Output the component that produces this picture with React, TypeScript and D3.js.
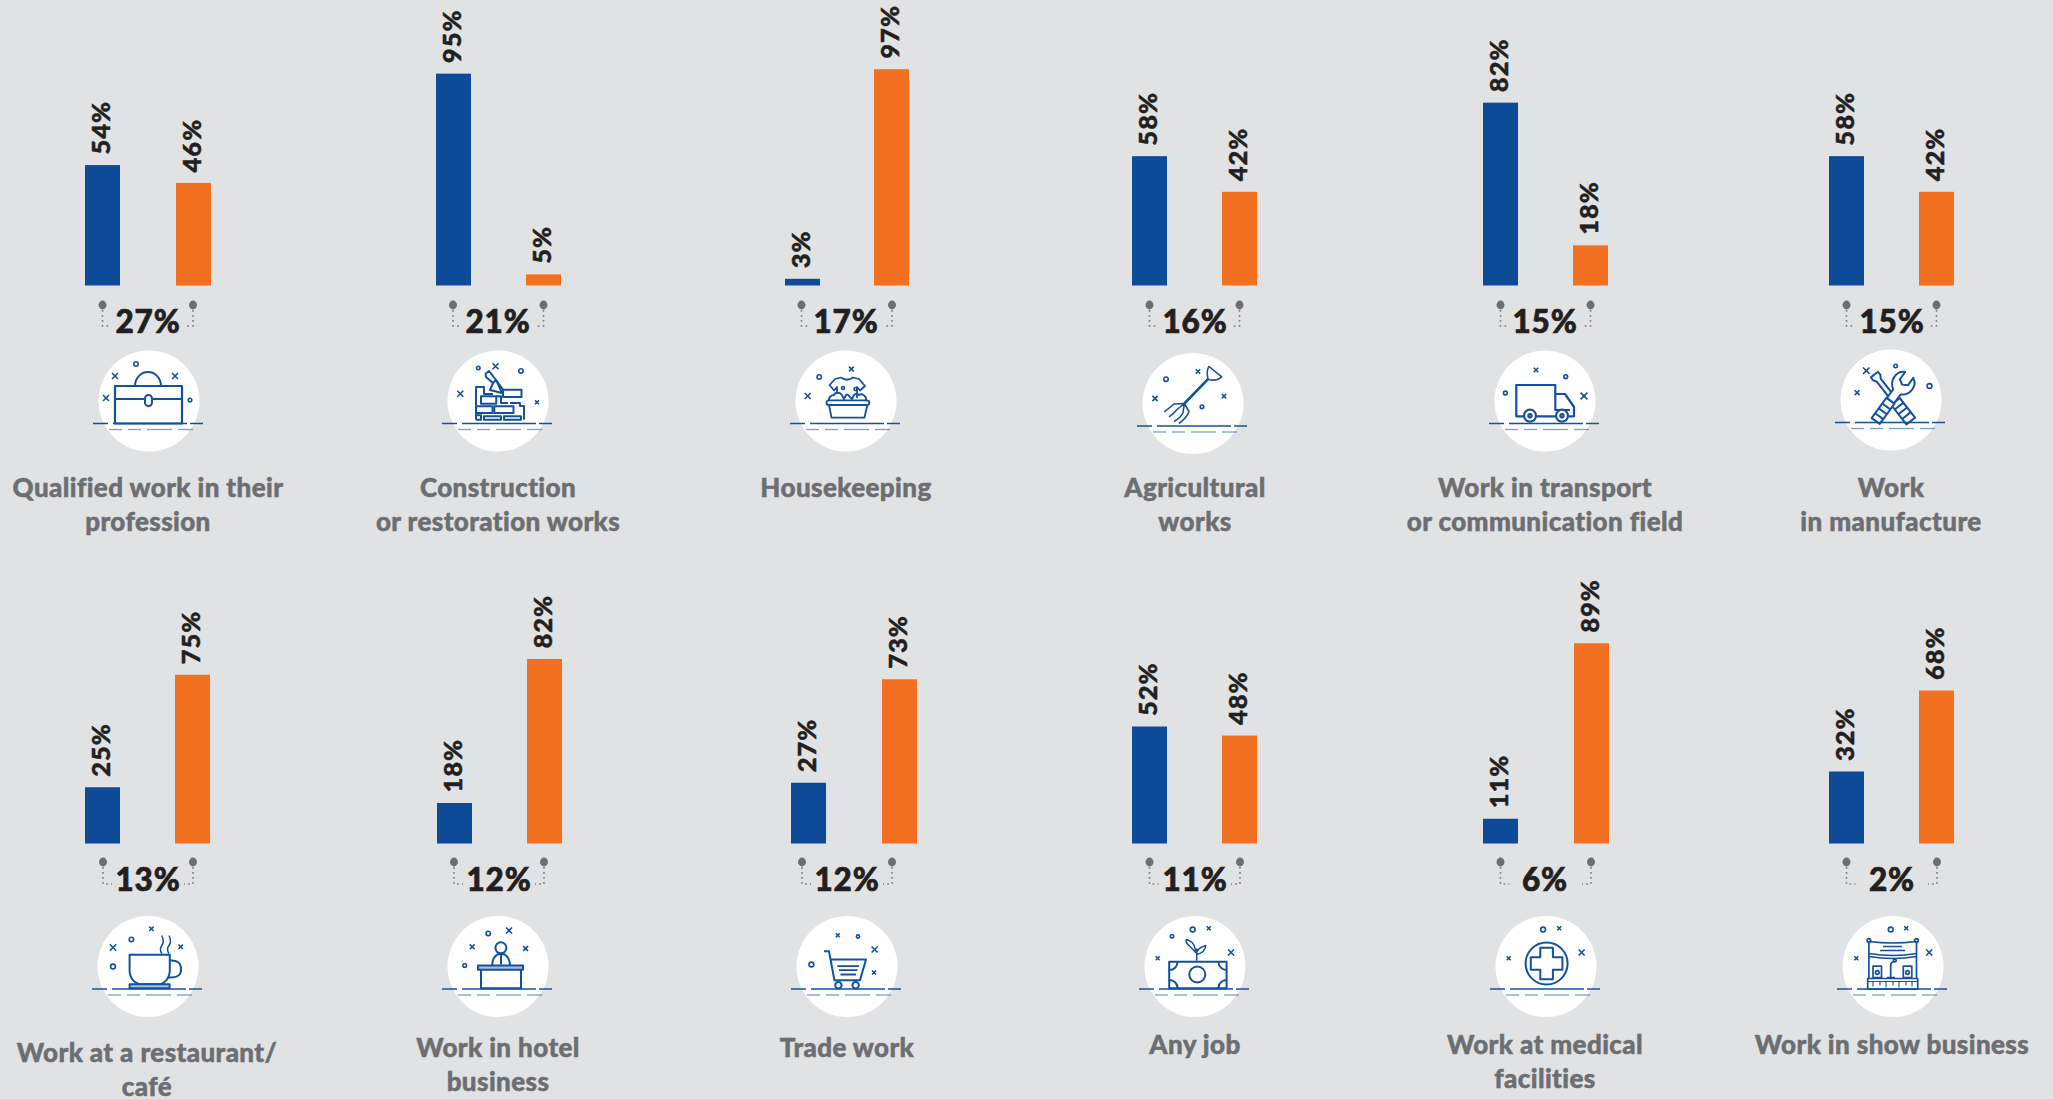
import React from "react";
import * as d3 from "d3";

// ---- data ----
const categories: string[][] = [
  ["Qualified work in their", "profession"],
  ["Construction", "or restoration works"],
  ["Housekeeping"],
  ["Agricultural", "works"],
  ["Work in transport", "or communication field"],
  ["Work", "in manufacture"],
  ["Work at a restaurant/", "café"],
  ["Work in hotel", "business"],
  ["Trade work"],
  ["Any job"],
  ["Work at medical", "facilities"],
  ["Work in show business"],
];
const blueValues = [54, 95, 3, 58, 82, 58, 25, 18, 27, 52, 11, 32];
const orangeValues = [46, 5, 97, 42, 18, 42, 75, 82, 73, 48, 89, 68];
const overallValues = [27, 21, 17, 16, 15, 15, 13, 12, 12, 11, 6, 2];
const iconNames = ["case", "bricks", "wash", "fork", "truck", "tools", "cup", "desk", "cart", "money", "cross", "stage"];

// ---- layout ----
const W = 2053, H = 1099;
const BLUE = "#0d4b99", ORANGE = "#f47021", GREY = "#6d6e71", INK = "#231f20", BG = "#e1e2e4", ICON = "#13509f";
const blueLeft = [85, 436, 785, 1132, 1483, 1829, 85, 437, 791, 1132, 1483, 1829];
const orangeLeft = [176, 526, 874, 1222, 1573, 1919, 175, 527, 882, 1222, 1574, 1919];
const barW = 35;
const baseY = [285.5, 843.5];
const pxPerPct = [2.23, 2.25];
const circleX = [149, 498, 846, 1193, 1545, 1891, 148, 498, 847, 1195, 1546, 1893];
const circleY = [401, 401, 401, 403.5, 401, 400, 966.5, 966.5, 966.5, 966.5, 966.5, 966.5];
const labelX = [148, 498, 846, 1195, 1545, 1891, 147, 498, 847, 1195, 1545, 1892];
const labelY = [497, 497, 497, 497, 497, 497, 1062, 1057, 1057, 1054, 1054, 1054];
const overallX = [148, 498, 846, 1195, 1545, 1892, 148, 499, 847, 1195, 1545, 1892];
const pinLeft = [102.5, 453, 801.5, 1149.5, 1500.5, 1846.5, 103, 454, 802, 1149.5, 1500.5, 1846.5];
const pinRight = [193, 543.5, 892, 1239.5, 1590.5, 1936.5, 193, 544, 892, 1240, 1591, 1937];
const dotY = [305, 862];
const dotEnd = [326, 884];
const overallBase = [333, 891];

const FONT = "Lato, 'Open Sans', sans-serif";

const X = ({ x, y, s = 3 }: { x: number; y: number; s?: number }) => (
  <path d={`M${x - s} ${y - s}L${x + s} ${y + s}M${x + s} ${y - s}L${x - s} ${y + s}`} strokeWidth={1.6} />
);
const O = ({ x, y, r = 2.2 }: { x: number; y: number; r?: number }) => <circle cx={x} cy={y} r={r} strokeWidth={1.6} />;

const icons: Record<string, React.ReactNode> = {
  case: (
    <g>
      <O x={-13} y={-37} /><X x={-34} y={-25} /><X x={26} y={-25} /><X x={-43} y={-3} /><O x={41} y={-1} r={1.8} />
      <rect x={-34} y={-15} width={67} height={37.5} strokeWidth={2.2} />
      <path d="M-34 -2H33" strokeWidth={2} />
      <path d="M-14 -15A13 14 0 0 1 12 -15" strokeWidth={2} />
      <rect x={-4} y={-6} width={7} height={11} rx={3.5} fill="#fff" strokeWidth={2} />
    </g>
  ),
  bricks: (
    <g strokeWidth={2}>
      <O x={-19.7} y={-33} r={1.7} /><X x={-2.5} y={-34.7} /><O x={23} y={-30} /><X x={-37.7} y={-7.3} /><X x={39} y={1.3} s={2} />
      <path d="M-12.4 -27.3L-9 -30L-2 -21L-5 -18L-12 -24Z" />
      <path d="M-5 -18L-8 -11L4 -8L0 -17L-2 -21" />
      <path d="M-2 -21L5 -11.3" />
      <rect x={5} y={-11.3} width={18.5} height={7.3} />
      <path d="M-22 18.7V-14H-14V-7H-5" />
      <rect x={-17} y={-4.7} width={15.3} height={7.4} />
      <path d="M-1.7 -4.7H3V2H10" />
      <rect x={-22} y={5.3} width={16.5} height={6.7} />
      <rect x={-3.7} y={5.3} width={19.2} height={6.7} />
      <path d="M12 2H22V5H26V18.7" />
      <path d="M-22 14.3H-17V18.7H-22" />
      <rect x={-14} y={15.3} width={17} height={3.4} />
      <rect x={6} y={15.3} width={17} height={3.4} />
    </g>
  ),
  wash: (
    <g strokeWidth={1.8}>
      <O x={-26.8} y={-24} /><X x={5.4} y={-32} s={2.4} /><X x={-38.3} y={-5} />
      <path d="M-5 -23.5Q1 -19 7 -23.5L13 -22L19 -15L14 -10.5L11 -14V-3M-5 -23.5L-11 -22L-16.4 -16L-12 -10.5L-9 -14V-7" />
      <path d="M-17 0C-18 -4 -14 -6 -12 -6C-11 -9 -6 -9 -4 -6L-2 -2L0 -6C2 -8 4 -3 6 -2L8 -6C10 -8 12 -7 13 -6C16 -8 21 -5 20 0" />
      <O x={-3} y={-13} r={1.5} /><O x={9.5} y={-12} r={1.5} />
      <rect x={-19.5} y={-0.7} width={42.8} height={4.7} rx={2.3} />
      <path d="M-17 4L-14.5 16.7H18.4L21.4 4" />
    </g>
  ),
  fork: (
    <g strokeWidth={1.6}>
      <O x={-27} y={-24.3} /><X x={5} y={-32} s={2.2} /><X x={-38} y={-5} s={2.6} /><X x={31} y={-7.3} s={2.2} /><O x={9} y={3.3} r={1.8} />
      <path d="M15 -24.3L-8.6 0" strokeWidth={2.6} />
      <path d="M15 -24.3Q13 -33 16 -37L28.7 -26.7Q23 -21.5 15 -24.3Z" />
      <path d="M-8.6 0L-19 0.5Q-23 4 -28.7 8.3M-8.6 0L-16 6Q-19 10 -24 13.3M-8.6 0L-10 9Q-12 14 -19 18M-8.6 0L-4 8Q-6 14 -14 20" />
    </g>
  ),
  truck: (
    <g strokeWidth={2.2}>
      <X x={-9} y={-31} s={2.2} /><O x={20.7} y={-24.3} r={1.9} /><O x={-39.6} y={-8} r={1.9} /><X x={39} y={-5} s={3.4} />
      <path d="M-22 15.3H-28.7V-16H10.3V9H25M10.3 -7H20L29 6V15.3H24M-8 15.3H10" />
      <circle cx={-15} cy={14.7} r={6} fill="#fff" /><circle cx={-15} cy={14.7} r={1.6} />
      <circle cx={17} cy={14.7} r={6} fill="#fff" /><circle cx={17} cy={14.7} r={1.6} />
    </g>
  ),
  tools: (
    <g strokeWidth={2}>
      <X x={-24.7} y={-29.3} s={3.2} /><O x={4.6} y={-34} r={1.7} /><O x={38.5} y={-14} r={2.4} /><X x={-33.9} y={-7.3} s={2.4} />
      <g transform="translate(2.5 -1) rotate(-38)">
        <path d="M-2.5 3V-24L-4.5 -27V-31H4.5V-27L2.5 -24V3" />
        <rect x={-5.5} y={3} width={11} height={25} fill="#fff" />
        <path d="M-5.5 9H5.5M-5.5 15H5.5M-5.5 21H5.5" />
      </g>
      <g transform="translate(0 0) rotate(36)">
        <path d="M-4.5 -10Q-11 -14 -11 -21Q-11 -28 -5 -31V-22L0 -19L5 -22V-31Q11 -28 11 -21Q11 -14 4.5 -10V1H-4.5Z" fill="#fff" />
        <rect x={-5} y={1} width={10} height={25} fill="#fff" />
        <path d="M-5 8H5M-5 14H5M-5 20H5" />
      </g>
    </g>
  ),
  cup: (
    <g strokeWidth={2}>
      <X x={-35} y={-19} s={3.2} /><O x={-16.6} y={-27} r={2.2} /><X x={3.4} y={-37.7} s={2.2} /><X x={32.7} y={-19.7} s={2.2} /><O x={-35} y={0} r={2.4} />
      <path d="M-18.4 -11.7H21.8V5Q21 14 13 17.7H-9Q-18 14 -18.4 5Z" strokeWidth={2} />
      <path d="M21.8 -6Q33 -7 33 3Q33 12 20 11" />
      <rect x={-18.4} y={17.7} width={40} height={4} fill="#a9c0de" />
      <path d="M13.8 -13Q11 -17 13.8 -21T13.8 -31M21 -13Q18 -17 21 -21T21 -31" strokeWidth={1.5} />
    </g>
  ),
  desk: (
    <g strokeWidth={2}>
      <O x={-9.8} y={-33} /><X x={11} y={-36} s={3} /><X x={-25.8} y={-19.7} s={2.4} /><X x={27.6} y={-18} s={2.4} /><O x={-33.3} y={-1} r={1.8} />
      <circle cx={2.9} cy={-18.7} r={5.5} />
      <path d="M-5.7 -1Q-6 -9 0 -12.3H6Q12 -9 12 -1M3 -12V-2" />
      <rect x={-20} y={-1} width={45} height={4.3} fill="#a9c0de" />
      <path d="M-17 3.3V21.7H23V3.3" />
    </g>
  ),
  cart: (
    <g strokeWidth={2}>
      <X x={-9.2} y={-31.3} s={2} /><O x={11} y={-30} r={1.6} /><X x={27.6} y={-17} s={3} /><O x={-35.6} y={-2} r={2.4} /><X x={27} y={6} s={2} />
      <path d="M-23 -15.3H-18L-12.6 13.7H13L19 -7H-16.6" />
      <path d="M-9.8 -0.3H12M-8 3.7H10.5M-6.5 8H9" strokeWidth={1.8} />
      <circle cx={-8.6} cy={18.7} r={3.2} /><circle cx={8.6} cy={18.7} r={3.2} />
    </g>
  ),
  money: (
    <g strokeWidth={2}>
      <O x={-23} y={-30.3} r={1.7} /><O x={-2.3} y={-37} r={2.4} /><X x={13.8} y={-38.3} s={2} /><X x={-37.3} y={-8.3} s={2} /><X x={36} y={-14} s={3} />
      <rect x={-25.8} y={-4.7} width={57.4} height={26.4} />
      <circle cx={2.3} cy={8} r={8} />
      <path d="M-25.8 3.5A8 8 0 0 0 -17.5 -4.7M23.5 -4.7A8 8 0 0 0 31.6 3.5M-25.8 13.5A8 8 0 0 1 -17.5 21.7M23.5 21.7A8 8 0 0 1 31.6 13.5" />
      <path d="M1.7 -5.7V-18M1.7 -13Q-2 -17 -5 -20Q-10 -24 -8.6 -27Q-1 -25 0 -18L1.7 -13M1.7 -12Q1 -18 10.9 -21Q10 -14 1.7 -12" strokeWidth={1.5} />
    </g>
  ),
  cross: (
    <g strokeWidth={2}>
      <O x={-2.9} y={-37} r={2.4} /><X x={13.2} y={-38.3} s={2} /><X x={-37.3} y={-8.3} s={2} /><X x={35.6} y={-14} s={3} />
      <circle cx={0.6} cy={-3} r={21} />
      <path d="M-5.7 -18.8H6.9V-9.3H16.4V3.3H6.9V12.8H-5.7V3.3H-15.2V-9.3H-5.7Z" />
    </g>
  ),
  stage: (
    <g strokeWidth={1.7}>
      <O x={-2.3} y={-37} r={2.4} /><X x={13.2} y={-38.3} s={2} /><X x={-36.7} y={-8.3} s={2} /><X x={36.2} y={-14} s={3} />
      <path d="M-24.1 -25Q0 -22 23.5 -25M-24.1 -25V12M23.5 -25V12M-24.1 -13Q0 -9 23.5 -13M-24.1 -10Q0 -6 23.5 -10" />
      <path d="M-10 -20H9M-13 -16H12" />
      <circle cx={-24.1} cy={-26} r={1.8} /><circle cx={23.5} cy={-26} r={1.8} />
      <rect x={-20} y={-0.3} width={8.5} height={11.3} /><circle cx={-15.7} cy={6} r={1.8} />
      <rect x={10.3} y={-0.3} width={8.5} height={11.3} /><circle cx={14.5} cy={6} r={1.8} />
      <path d="M-2.3 11V-2M-6 11H2M-2.3 -2Q-2 -4 1 -5" /><circle cx={1.8} cy={-6} r={1.4} />
      <rect x={-25.3} y={12} width={50} height={10.7} />
      <path d="M-25.3 15H24.7M-20 15V20M-13 15V19M-7 15V21M0 15V19M6 15V21M13 15V19M19 15V20" strokeWidth={1.1} />
    </g>
  ),
};

const groundA: [number, number][] = [[-56, -41], [-36, 38], [41, 54]];
const groundB: [number, number][] = [[-40, -27], [-21, -8], [-2, 23], [29, 44]];

function Panel({ i }: { i: number }) {
  const row = i < 6 ? 0 : 1;
  const y = d3.scaleLinear().domain([0, 100]).range([baseY[row], baseY[row] - 100 * pxPerPct[row]]);
  const bars = [
    { v: blueValues[i], left: blueLeft[i], fill: BLUE },
    { v: orangeValues[i], left: orangeLeft[i], fill: ORANGE },
  ];
  const cx = circleX[i], cy = circleY[i];
  const lx = pinLeft[i], rx = pinRight[i];
  const dy = dotY[row], de = dotEnd[row];
  return (
    <g>
      {bars.map((b, k) => (
        <g key={k}>
          <rect x={b.left} y={y(b.v)} width={barW} height={y(0) - y(b.v)} fill={b.fill} />
          <text
            transform={`translate(${b.left + barW / 2 + 7.5},${y(b.v) - 10.5}) rotate(-90)`}
            fontFamily={FONT} fontWeight={900} fontSize={25.5} letterSpacing={1} fill={INK} stroke={INK} strokeWidth={0.5}
          >{b.v}%</text>
        </g>
      ))}
      <g stroke={GREY} strokeWidth={1.6} fill="none" strokeDasharray="1.8 3.2" opacity={0.85}>
        <path d={`M${lx} ${dy + 5}V${de}H${lx + 9}`} />
        <path d={`M${rx} ${dy + 5}V${de}H${rx - 9}`} />
      </g>
      <ellipse cx={lx} cy={dy} rx={4} ry={4.4} fill={GREY} />
      <ellipse cx={rx} cy={dy} rx={4} ry={4.4} fill={GREY} />
      <text x={overallX[i]} y={overallBase[row]} textAnchor="middle" fontFamily={FONT} fontWeight={900} fontSize={31.5} letterSpacing={0.8} fill={INK} stroke={INK} strokeWidth={0.7}>
        {overallValues[i]}%
      </text>
      <circle cx={cx} cy={cy} r={50.5} fill="#fff" />
      <g transform={`translate(${cx},${cy})`} fill="none" stroke={ICON} strokeLinejoin="round">
        {icons[iconNames[i]]}
        <g strokeWidth={1.5}>
          {groundA.map((s, k) => <path key={k} d={`M${s[0]} 22.5H${s[1]}`} />)}
        </g>
        <g strokeWidth={1.3} opacity={0.55}>
          {groundB.map((s, k) => <path key={k} d={`M${s[0]} 28.5H${s[1]}`} />)}
        </g>
      </g>
      <text textAnchor="middle" fontFamily={FONT} fontWeight={900} fontSize={26} letterSpacing={0.4} fill={GREY} stroke={GREY} strokeWidth={0.5}>
        {categories[i].map((line, k) => (
          <tspan key={k} x={labelX[i]} y={labelY[i] + k * 34}>{line}</tspan>
        ))}
      </text>
    </g>
  );
}

export default function App() {
  return (
    <svg width={W} height={H} viewBox={`0 0 ${W} ${H}`} style={{ position: "fixed", left: 0, top: 0, display: "block" }}>
      <rect width={W} height={H} fill={BG} />
      {categories.map((_, i) => <Panel key={i} i={i} />)}
    </svg>
  );
}
